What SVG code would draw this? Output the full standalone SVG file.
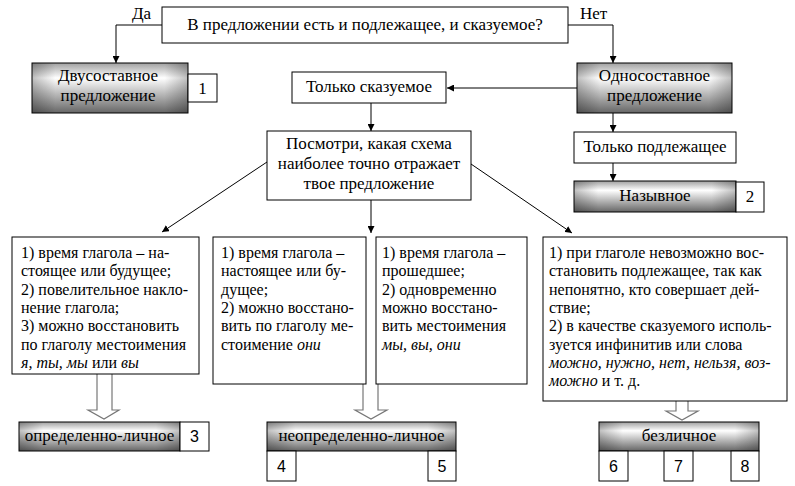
<svg xmlns="http://www.w3.org/2000/svg" width="795" height="486" viewBox="0 0 795 486">
<style>
.bx{fill:#fff;stroke:#000;stroke-width:1}
.t{font-family:"Liberation Serif","Times New Roman",serif;font-size:16px;fill:#000}
.h{font-size:17px}
.c{text-anchor:middle}
.n{font-family:"Liberation Sans",Arial,sans-serif;font-size:16px;fill:#000;text-anchor:middle}
.i{font-style:italic}
.ln{fill:none;stroke:#000;stroke-width:1}
.ba{fill:#fff;stroke:#777;stroke-width:1.2}
</style>
<defs>
<linearGradient id="gv" x1="0" y1="0" x2="0" y2="1">
<stop offset="0" stop-color="#a0a0a0"/>
<stop offset="0.3" stop-color="#ffffff"/>
<stop offset="1" stop-color="#666666"/>
</linearGradient>
<linearGradient id="gh" x1="0" y1="0" x2="1" y2="0">
<stop offset="0" stop-color="#000" stop-opacity="0.25"/>
<stop offset="0.15" stop-color="#000" stop-opacity="0"/>
<stop offset="0.85" stop-color="#000" stop-opacity="0"/>
<stop offset="1" stop-color="#000" stop-opacity="0.25"/>
</linearGradient>
<marker id="ar" viewBox="0 0 10 10" refX="10" refY="5" markerWidth="7" markerHeight="7" markerUnits="userSpaceOnUse" orient="auto">
<path d="M0,0 L10,5 L0,10 z" fill="#000"/>
</marker>
</defs>

<g id="connectors">
<polyline class="ln" points="162,25 116,25 116,63" marker-end="url(#ar)"/>
<polyline class="ln" points="568,25 613,25 613,63" marker-end="url(#ar)"/>
<line class="ln" x1="577" y1="88" x2="447" y2="88" marker-end="url(#ar)"/>
<line class="ln" x1="613" y1="113" x2="613" y2="132" marker-end="url(#ar)"/>
<line class="ln" x1="613" y1="163" x2="613" y2="181" marker-end="url(#ar)"/>
<line class="ln" x1="371" y1="103" x2="371" y2="131" marker-end="url(#ar)"/>
<line class="ln" x1="267" y1="162" x2="162" y2="232" marker-end="url(#ar)"/>
<line class="ln" x1="471" y1="164" x2="572" y2="233" marker-end="url(#ar)"/>
<line class="ln" x1="371" y1="200" x2="371" y2="233" marker-end="url(#ar)"/>
<text class="t h" x="132" y="19">Да</text>
<text class="t h" x="580" y="19">Нет</text>
<path class="ba" d="M97,374 V410 H88 L104,419 L119,410 H112 V374"/>
<path class="ba" d="M363,384 V410 H355 L371,419 L387,410 H378 V384"/>
<path class="ba" d="M676,401 V411 H666 L682,420 L698,411 H688 V401"/>
</g>

<g id="question">
<rect class="bx" x="162" y="7" width="406" height="36"/>
<text class="t h c" x="365" y="30">В предложении есть и подлежащее, и сказуемое?</text>
</g>

<g id="dvusost">
<rect x="32" y="63" width="156" height="50" fill="url(#gv)"/>
<rect x="32" y="63" width="156" height="50" fill="url(#gh)" stroke="#000"/>
<text class="t h c" x="108" y="81">Двусоставное</text>
<text class="t h c" x="108" y="101">предложение</text>
</g>
<g id="num1">
<rect class="bx" x="188" y="74" width="29" height="28"/>
<text class="t h c" x="202.5" y="94">1</text>
</g>

<g id="odnosost">
<rect x="577" y="63" width="155" height="50" fill="url(#gv)"/>
<rect x="577" y="63" width="155" height="50" fill="url(#gh)" stroke="#000"/>
<text class="t h c" x="654.5" y="81">Односоставное</text>
<text class="t h c" x="654.5" y="101">предложение</text>
</g>

<g id="tolko-skaz">
<rect class="bx" x="292" y="72" width="154" height="31"/>
<text class="t h c" x="369" y="92">Только сказуемое</text>
</g>

<g id="tolko-podl">
<rect class="bx" x="574" y="132" width="162" height="31"/>
<text class="t h c" x="655" y="152">Только подлежащее</text>
</g>

<g id="nazyvnoe">
<rect x="574" y="181" width="162" height="31" fill="url(#gv)"/>
<rect x="574" y="181" width="162" height="31" fill="url(#gh)" stroke="#000"/>
<text class="t h c" x="655" y="201">Назывное</text>
</g>
<g id="num2">
<rect class="bx" x="736" y="182" width="28" height="30"/>
<text class="t h c" x="750" y="202">2</text>
</g>

<g id="posmotri">
<rect class="bx" x="267" y="131" width="204" height="69"/>
<text class="t h c" x="369" y="149">Посмотри, какая схема</text>
<text class="t h c" x="369" y="169">наиболее точно отражает</text>
<text class="t h c" x="369" y="189">твое предложение</text>
</g>

<g id="boxA">
<rect class="bx" x="12" y="237" width="187" height="137"/>
<text class="t" x="21" y="258">1) время глагола – на-</text>
<text class="t" x="21" y="276.3">стоящее или будущее;</text>
<text class="t" x="21" y="294.6">2) повелительное накло-</text>
<text class="t" x="21" y="312.9">нение глагола;</text>
<text class="t" x="21" y="331.2">3) можно восстановить</text>
<text class="t" x="21" y="349.5">по глаголу местоимения</text>
<text class="t" x="21" y="367.8"><tspan class="i">я, ты, мы</tspan> или <tspan class="i">вы</tspan></text>
</g>

<g id="boxB">
<rect class="bx" x="213" y="237" width="153" height="147"/>
<text class="t" x="221" y="258">1) время глагола –</text>
<text class="t" x="221" y="276.3">настоящее или бу-</text>
<text class="t" x="221" y="294.6">дущее;</text>
<text class="t" x="221" y="312.9">2) можно восстано-</text>
<text class="t" x="221" y="331.2">вить по глаголу ме-</text>
<text class="t" x="221" y="349.5">стоимение <tspan class="i">они</tspan></text>
</g>

<g id="boxC">
<rect class="bx" x="376" y="237" width="151" height="147"/>
<text class="t" x="382" y="258">1) время глагола –</text>
<text class="t" x="382" y="276.3">прошедшее;</text>
<text class="t" x="382" y="294.6">2) одновременно</text>
<text class="t" x="382" y="312.9">можно восстано-</text>
<text class="t" x="382" y="331.2">вить местоимения</text>
<text class="t i" x="382" y="349.5">мы, вы, они</text>
</g>

<g id="boxD">
<rect class="bx" x="543" y="237" width="244" height="164"/>
<text class="t" x="549" y="258">1) при глаголе невозможно вос-</text>
<text class="t" x="549" y="276.3">становить подлежащее, так как</text>
<text class="t" x="549" y="294.6">непонятно, кто совершает дей-</text>
<text class="t" x="549" y="312.9">ствие;</text>
<text class="t" x="549" y="331.2">2) в качестве сказуемого исполь-</text>
<text class="t" x="549" y="349.5">зуется инфинитив или слова</text>
<text class="t i" x="549" y="367.8">можно, нужно, нет, нельзя, воз-</text>
<text class="t" x="549" y="386.1"><tspan class="i">можно</tspan> и т. д.</text>
</g>

<g id="opredel">
<rect x="19" y="422" width="161" height="29" fill="url(#gv)"/>
<rect x="19" y="422" width="161" height="29" fill="url(#gh)" stroke="#000"/>
<text class="t h c" x="99.5" y="441">определенно-личное</text>
</g>
<g id="num3">
<rect class="bx" x="180" y="422" width="29" height="29"/>
<text class="n" x="194.5" y="442">3</text>
</g>

<g id="neopredel">
<rect x="267" y="422" width="189" height="29" fill="url(#gv)"/>
<rect x="267" y="422" width="189" height="29" fill="url(#gh)" stroke="#000"/>
<text class="t h c" x="361.5" y="441">неопределенно-личное</text>
</g>
<g id="num4">
<rect class="bx" x="267" y="451" width="29" height="30"/>
<text class="n" x="281.5" y="472">4</text>
</g>
<g id="num5">
<rect class="bx" x="428" y="451" width="28" height="30"/>
<text class="n" x="442" y="472">5</text>
</g>

<g id="bezlich">
<rect x="599" y="422" width="160" height="29" fill="url(#gv)"/>
<rect x="599" y="422" width="160" height="29" fill="url(#gh)" stroke="#000"/>
<text class="t h c" x="679" y="441">безличное</text>
</g>
<g id="num6">
<rect class="bx" x="599" y="451" width="29" height="30"/>
<text class="n" x="613.5" y="472">6</text>
</g>
<g id="num7">
<rect class="bx" x="664" y="451" width="29" height="30"/>
<text class="n" x="678.5" y="472">7</text>
</g>
<g id="num8">
<rect class="bx" x="731" y="451" width="28" height="30"/>
<text class="n" x="745" y="472">8</text>
</g>
</svg>
